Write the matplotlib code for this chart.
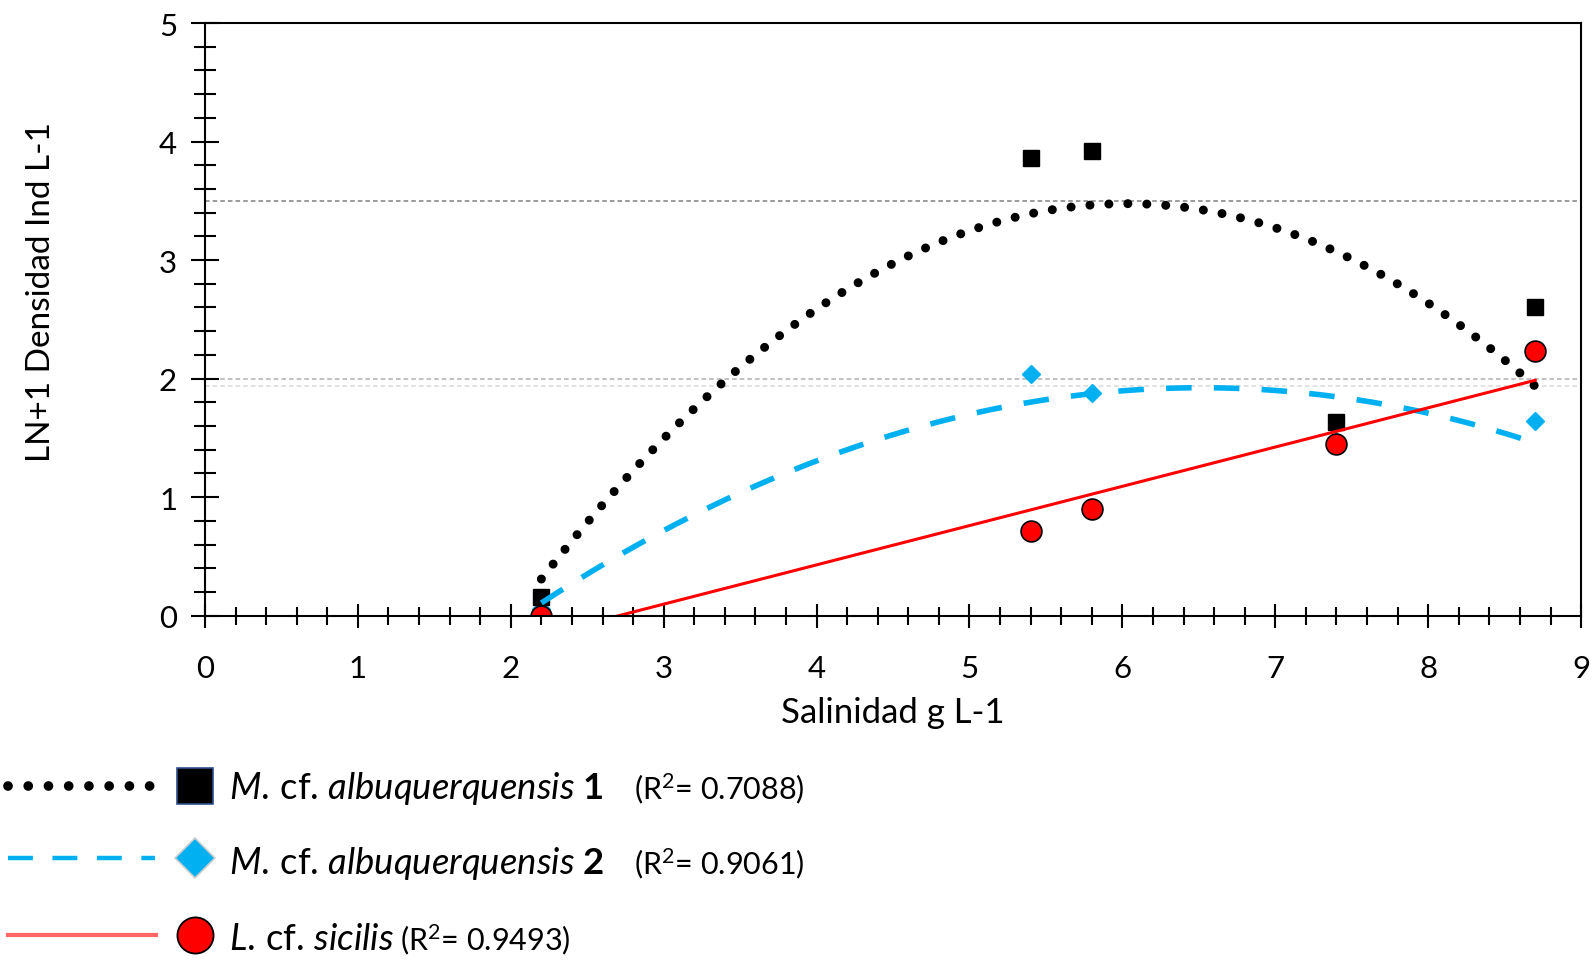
"""
    Densidad (LN+1) de tres especies frente a la salinidad,
    con lineas de tendencia polinomicas / lineal como en Excel.
"""

import numpy as np
import matplotlib
matplotlib.use("Agg")
from matplotlib import pyplot as plt
from matplotlib.ticker import MultipleLocator

# --- datos ---
salinity = [2.2, 5.4, 5.8, 7.4, 8.7]
m_albu_1 = [0.155, 3.86, 3.92, 1.635, 2.60]
m_albu_2 = [0.06, 2.04, 1.876, 1.47, 1.64]   # 2.2 y 7.4 quedan tapados por los circulos
l_sicilis = [0.0, 0.714, 0.90, 1.446, 2.23]
ref_levels = [3.5, 2.0, 1.94]
ref_colors = ["#808080", "#B0B0B0", "#DADADA"]
r2_labels = ["0.7088", "0.9061", "0.9493"]

BLUE = "#00B0F0"
FONT = "Lato"

plt.rcParams["font.family"] = FONT
plt.rcParams["mathtext.fontset"] = "custom"
plt.rcParams["mathtext.rm"] = FONT
plt.rcParams["mathtext.it"] = FONT + ":italic"
plt.rcParams["mathtext.bf"] = FONT + ":bold"

dotted = (0, (0.001, 2.1))
dashed = (0, (4.6, 4.0))


def trend(x, y, deg):
    coef = np.polyfit(x, y, deg)
    xs = np.linspace(min(x), max(x), 300)
    return xs, np.polyval(coef, xs)


fig = plt.figure(figsize=(15.94, 9.62), dpi=100)
ax = fig.add_axes([0.1286, 0.359, 0.8633, 0.616])

for lvl, col in zip(ref_levels, ref_colors):
    ax.axhline(lvl, color=col, lw=1.1, ls=(0, (3, 2)), zorder=1)

ax.plot(salinity, m_albu_2, ls="none", marker="D", ms=9.5, color=BLUE, zorder=2.0)
ax.plot(salinity, m_albu_1, ls="none", marker="s", ms=11, color="black", zorder=2.1)
xs, ys = trend(salinity, m_albu_1, 2)
ax.plot(xs, ys, color="black", lw=6.5, ls=dotted, dash_capstyle="round", zorder=2.2)
xs, ys = trend(salinity, m_albu_2, 2)
ax.plot(xs, ys, color=BLUE, lw=4.0, ls=dashed, zorder=2.3)

ax.plot(salinity, l_sicilis, ls="none", marker="o", ms=15, mfc="red", mec="black",
        mew=1.2, zorder=2.4)
xs, ys = trend(salinity, l_sicilis, 1)
ax.plot(xs, ys, color="red", lw=2.2, zorder=2.5)

ax.set_xlim(0, 9)
ax.set_ylim(0, 5)
ax.xaxis.set_major_locator(MultipleLocator(1))
ax.xaxis.set_minor_locator(MultipleLocator(0.2))
ax.yaxis.set_major_locator(MultipleLocator(1))
ax.yaxis.set_minor_locator(MultipleLocator(0.2))
ax.tick_params(axis="both", which="both", direction="inout", width=1.5, colors="black")
ax.tick_params(axis="x", which="major", length=17, pad=19, labelsize=22.5)
ax.tick_params(axis="x", which="minor", length=13)
ax.tick_params(axis="y", which="major", length=20, pad=10, labelsize=22.5)
ax.tick_params(axis="y", which="minor", length=16)
for sp in ax.spines.values():
    sp.set_linewidth(1.5)
    sp.set_color("black")

fig.text(893 / 1594, 1 - 713 / 962, "Salinidad g L-1", ha="center", va="center", fontsize=25)
fig.text(41 / 1594, 1 - 292 / 962, "LN+1 Densidad Ind L-1", ha="center", va="center",
         rotation=90, fontsize=24)

# --- leyenda manual debajo del grafico ---
marker_y = [787, 859, 936]
text_y = [789, 864, 940]
W, H = 1594, 962


def fx(px):
    return px / W


def fy(py):
    return 1 - py / H


legend_ax = fig.add_axes([0, 0, 1, 1], facecolor="none")
legend_ax.set_xlim(0, W)
legend_ax.set_ylim(H, 0)
legend_ax.axis("off")

legend_ax.plot([8, 150], [marker_y[0]] * 2, color="black", lw=7, ls=(0, (0.001, 2.08)),
               dash_capstyle="round")
legend_ax.plot([195], [marker_y[0]], marker="s", ms=26, mfc="black", mec="#2F4F8F", mew=1.2)
legend_ax.plot([8, 155], [marker_y[1]] * 2, color=BLUE, lw=3.2, ls=(0, (5.6, 4.4)))
legend_ax.plot([195], [marker_y[1]], marker="D", ms=20, mfc=BLUE, mec="#CFCFCF", mew=1.2)
legend_ax.plot([8, 156], [marker_y[2]] * 2, color="#FF6666", lw=3.0)
legend_ax.plot([195], [marker_y[2]], marker="o", ms=26, mfc="red", mec="black", mew=1.3)

names = [r"$\mathit{M.}\,$cf. $\mathit{albuquerquensis}$ $\mathbf{1}$",
         r"$\mathit{M.}\,$cf. $\mathit{albuquerquensis}$ $\mathbf{2}$",
         r"$\mathit{L.}\,$cf. $\mathit{sicilis}$"]
name_texts = []
for i, name in enumerate(names):
    name_texts.append(fig.text(fx(229), fy(text_y[i]), name, ha="left", va="center",
                               fontsize=26.3))

# el R2 de la ultima fila va justo detras del nombre
renderer = fig.canvas.get_renderer()
last_end = name_texts[2].get_window_extent(renderer).x1 + 6
r2_x = [634, 634, last_end]
for i, r2 in enumerate(r2_labels):
    fig.text(fx(r2_x[i]), fy(text_y[i]), "(R$^2$= " + r2 + ")", ha="left", va="center",
             fontsize=22)

fig.savefig("out.png", dpi=100)
